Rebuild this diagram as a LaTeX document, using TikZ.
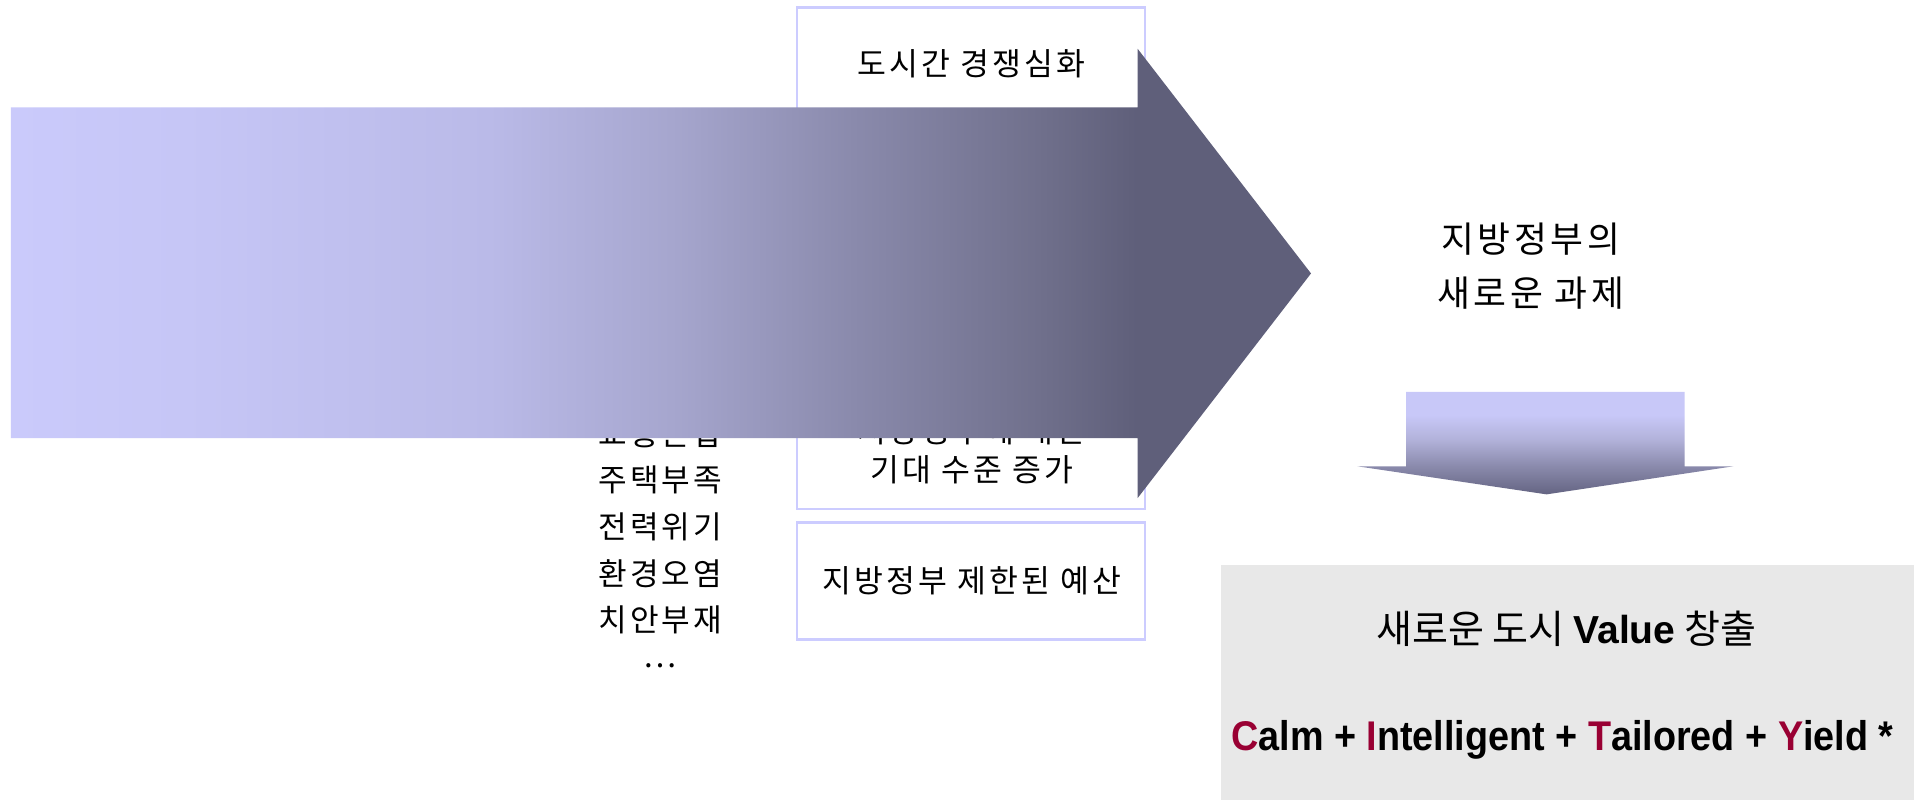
\documentclass[tikz,border=0pt]{standalone}
\usepackage{fontspec}
\setmainfont{Liberation Sans}
\newfontfamily\kr[LetterSpace=10]{Noto Sans CJK KR}
\newfontfamily\krn{Noto Sans CJK KR}
\definecolor{boxc}{HTML}{CCCCFF}
\definecolor{grayc}{HTML}{E8E8E8}
\definecolor{redc}{HTML}{990033}
\definecolor{s0}{HTML}{CACAFB}
\definecolor{s1}{HTML}{C6C6F6}
\definecolor{s2}{HTML}{BABAE8}
\definecolor{s3}{HTML}{A6A6CE}
\definecolor{s4}{HTML}{8A8AAC}
\definecolor{s5}{HTML}{70708C}
\definecolor{s6}{HTML}{5F5F7A}
\pgfdeclarehorizontalshading{bigarr}{100bp}{color(0bp)=(s0); color(25bp)=(s0); color(31.6bp)=(s1); color(43.4bp)=(s2); color(50.4bp)=(s3); color(57.4bp)=(s4); color(64.5bp)=(s5); color(68.3bp)=(s6); color(75bp)=(s6); color(100bp)=(s6)}
\definecolor{d0}{HTML}{646482}
\definecolor{d1}{HTML}{8A8AAC}
\definecolor{d2}{HTML}{B2B2DA}
\definecolor{d3}{HTML}{C8C8F8}
\pgfdeclareverticalshading{downarr}{100bp}{color(0bp)=(d0); color(25bp)=(d0); color(38.7bp)=(d1); color(51.8bp)=(d2); color(63.7bp)=(d3); color(75bp)=(d3); color(100bp)=(d3)}
\begin{document}
\begin{tikzpicture}[x=1pt,y=-1pt,
  box/.style={draw=boxc, line width=2pt},
  ktxt/.style={font=\kr\fontsize{25.7}{30}\selectfont, inner sep=0pt, anchor=center},
  ltxt/.style={font=\kr\fontsize{25.5}{30}\selectfont, inner sep=0pt, anchor=center},
  ttxt/.style={font=\kr\fontsize{29.3}{34}\selectfont, inner sep=0pt, anchor=center}]
\useasboundingbox (0,0) rectangle (1568,655);
\fill[white] (0,0) rectangle (1568,655);
% boxes
\draw[box] (653,6) rectangle (938,210);
\draw[box] (653,218) rectangle (938,417);
\draw[box] (653,428) rectangle (938,524);
\node[ktxt] (b1) at (796,52) {도시간 경쟁심화};
\node[ktxt] (b2a) at (796,353) {지방정부에 대한};
\node[ktxt] (b2b) at (796,385) {기대 수준 증가};
\node[ktxt] (b3) at (796,476) {지방정부 제한된 예산};
% list
\node[ltxt] (l1) at (541,355) {교통혼잡};
\node[ltxt] (l2) at (541,393) {주택부족};
\node[ltxt] (l3) at (541,432) {전력위기};
\node[ltxt] (l4) at (541,470) {환경오염};
\node[ltxt] (l5) at (541,508) {치안부재};
\node[ltxt] (l6) at (541,545) {…};
% big arrow
\shade[shading=bigarr] (9,88) -- (932,88) -- (932,40) -- (1074,224) -- (932,408) -- (932,359) -- (9,359) -- cycle;
% title
\node[ttxt] (t1) at (1254,196) {지방정부의};
\node[ttxt] (t2) at (1254,240) {새로운 과제};
% down arrow
\shade[shading=downarr] (1152,321) -- (1380,321) -- (1380,382) -- (1420,382) -- (1267,405) -- (1112,382) -- (1152,382) -- cycle;
% gray box
\fill[grayc] (1000,463) rectangle (1568,655);
\node[inner sep=0pt] (val) at (1283,515) {\fontsize{32}{38}\selectfont\krn 새로운 도시 {\rmfamily\bfseries Value} 창출};
\node[inner sep=0pt] (civ) at (1280,606) {\scalebox{0.91}[1]{\fontsize{34}{40}\selectfont\bfseries\textcolor{redc}{C}alm + \textcolor{redc}{I}ntelligent + \textcolor{redc}{T}ailored + \textcolor{redc}{Y}ield *}};
\end{tikzpicture}
\end{document}
